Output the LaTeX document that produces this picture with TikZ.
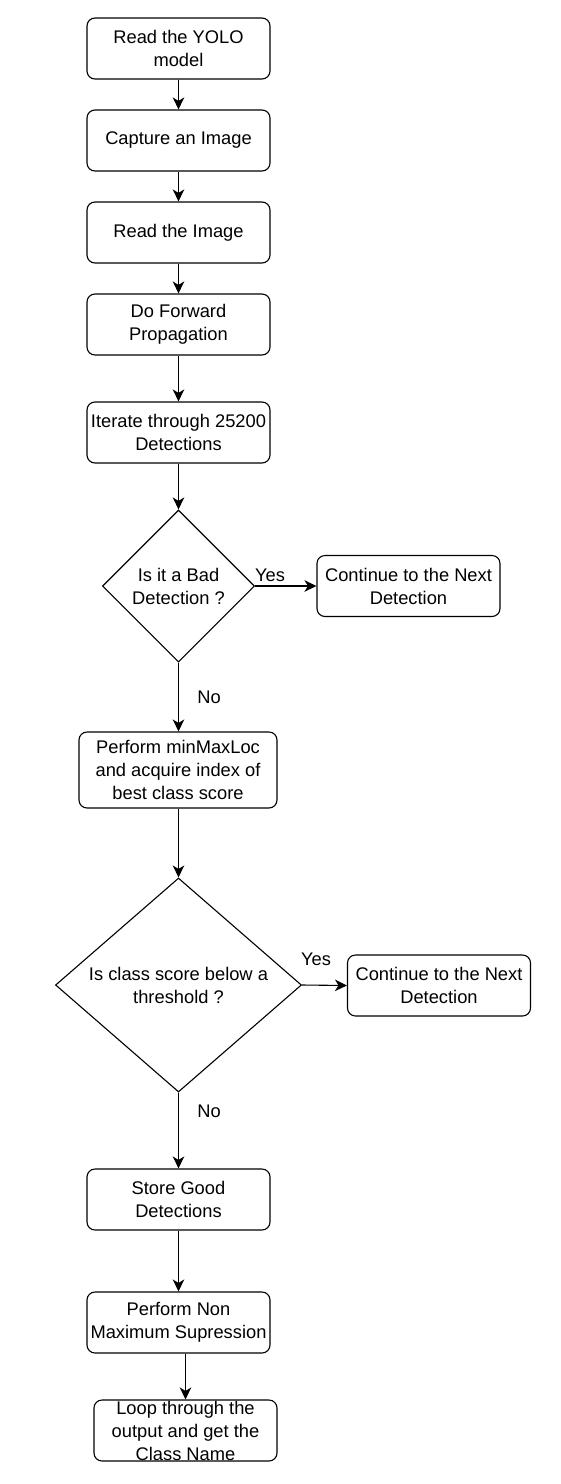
\documentclass[tikz,border=0pt]{standalone}
\usepackage{fontspec}
\setmainfont{Liberation Sans}
\usetikzlibrary{shapes.geometric,arrows.meta}
\begin{document}
\begin{tikzpicture}[x=1pt,y=-1pt,
  every node/.style={font=\fontsize{18.3}{23}\selectfont, align=center, inner sep=0pt},
  stepbox/.style={draw, line width=1.1pt, rounded corners=8pt, minimum width=183pt, minimum height=61pt},
  decision/.style={draw, line width=1.1pt, diamond},
  conn/.style={draw, line width=1.1pt, -{Stealth[length=12pt,width=11.5pt,inset=3.5pt]}},
  lbl/.style={}]
\useasboundingbox (0,0) rectangle (560,1484);
\node[stepbox] (b1) at (178.5,48.5) {Read the YOLO\\model};
\node[stepbox] (b2) at (178.5,140.5) {Capture an Image};
\node[stepbox] (b3) at (178.5,232.5) {Read the Image};
\node[stepbox] (b4) at (178.5,324.5) {Do Forward\\Propagation};
\node[stepbox] (b5) at (178.5,432.5) {Iterate through 25200\\Detections};
\node[decision, minimum width=152pt, minimum height=152pt] (d1) at (178.5,586) {Is it a Bad\\Detection ?};
\node[stepbox] (r1) at (408.5,586) {Continue to the Next\\Detection};
\node[stepbox, minimum width=198pt, minimum height=76pt] (b6) at (178,770) {Perform minMaxLoc\\and acquire index of\\best class score};
\node[decision, minimum width=246pt, minimum height=214pt, aspect=1.15] (d2) at (178.5,985) {Is class score below a\\threshold ?};
\node[stepbox] (r2) at (439,985.5) {Continue to the Next\\Detection};
\node[stepbox] (b7) at (178.5,1199.5) {Store Good\\Detections};
\node[stepbox] (b8) at (178.5,1322.5) {Perform Non\\Maximum Supression};
\node[stepbox] (b9) at (185.5,1430.5) {Loop through the\\output and get the\\Class Name};
\node[lbl] (y1) at (270,575) {Yes};
\node[lbl] (n1) at (209,697) {No};
\node[lbl] (y2) at (316,959) {Yes};
\node[lbl] (n2) at (209,1111) {No};
\draw[conn] (b1) -- (b2);
\draw[conn] (b2) -- (b3);
\draw[conn] (b3) -- (b4);
\draw[conn] (b4) -- (b5);
\draw[conn] (b5) -- (d1);
\draw[conn] (d1.east) -- (r1.west);
\draw[conn] (d1.south) -- (b6.north -| d1.south);
\draw[conn] (b6.south -| d2.north) -- (d2.north);
\draw[conn] (d2.east) -- (r2.west);
\draw[conn] (d2.south) -- (b7.north -| d2.south);
\draw[conn] (b7) -- (b8);
\draw[conn] (b8.south -| b9.north) -- (b9.north);
\end{tikzpicture}
\end{document}
